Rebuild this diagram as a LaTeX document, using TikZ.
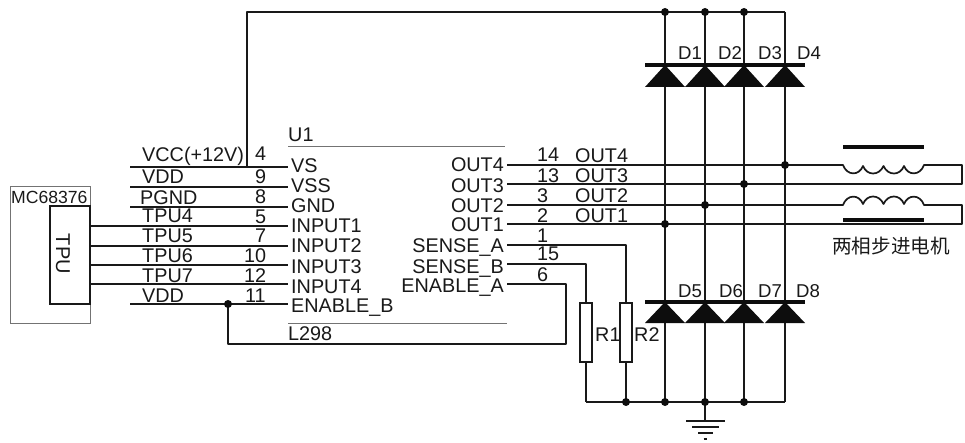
\documentclass[tikz,border=0pt]{standalone}
\usepackage{fontspec}
\setmainfont{Liberation Sans}
\newfontfamily\cjkfont{Noto Sans CJK SC}
\tikzset{
  wire/.style={line width=1.7pt,black!90,line join=round},
  thinbox/.style={line width=0.9pt,black!55},
  lab/.style={inner sep=0pt,anchor=base west,text=black!90,font=\fontsize{19.8}{22}\selectfont},
  labr/.style={lab,anchor=base east},
  dlab/.style={lab,font=\fontsize{18.6}{22}\selectfont},
  jdot/.style={circle,fill=black!95,inner sep=0pt,minimum size=8pt},
  diodetri/.style={fill=black!95,draw=none},
  barline/.style={line width=3.4pt,black!95},
  resbox/.style={draw=black!90,line width=1.7pt,fill=white,minimum width=12pt,minimum height=59pt,inner sep=0pt}
}
\begin{document}
\begin{tikzpicture}[x=1pt,y=-1pt]
\useasboundingbox (0,0) rectangle (965,443);
\fill[white] (0,0) rectangle (965,443);
% MC68376 outline and TPU box
\node[draw,thinbox,minimum width=80pt,minimum height=137pt,inner sep=0pt] (mc) at (50,254.5) {};
\node[draw=black!90,line width=1.4pt,minimum width=40pt,minimum height=98pt,inner sep=0pt] (tpu) at (70,255) {};
\node[lab,font=\fontsize{17.6}{20}\selectfont] (mclab) at (11,204) {MC68376};
\node[inner sep=0pt,rotate=-90,text=black!90,font=\fontsize{20}{22}\selectfont] (tpulab) at (63,254) {TPU};
% U1 outline lines
\coordinate (utl) at (288,146); \coordinate (utr) at (505,146);
\coordinate (ubl) at (288,323); \coordinate (ubr) at (507,323);
\draw[thinbox] (utl) -- (utr);
\draw[thinbox] (ubl) -- (ubr);
% left wires
\foreach \nm/\yy/\xs in {a/167/130,b/187/130,c/207/130,d/226/90,e/246/90,f/265/90,g/284/90,h/304/130}{
  \coordinate (l\nm) at (\xs,\yy);
  \coordinate (p\nm) at (288,\yy);
  \draw[wire] (l\nm) -- (p\nm);
}
% supply bus
\coordinate (vcct) at (247,12);
\coordinate (vccb) at (247,167);
\coordinate (d1t) at (665,12); \coordinate (d2t) at (705,12); \coordinate (d3t) at (744,12); \coordinate (d4t) at (785,12);
\draw[wire] (vccb) -- (vcct) -- (d4t);
% bottom bus
\coordinate (d1b) at (665,402); \coordinate (d2b) at (705,402); \coordinate (d3b) at (744,402); \coordinate (d4b) at (785,402);
\coordinate (r1b) at (586,402); \coordinate (r2b) at (626,402);
\draw[wire] (r1b) -- (d4b);
% verticals
\foreach \i in {1,2,3,4}{ \draw[wire] (d\i t) -- (d\i b); }
% output and coils
\coordinate (o4) at (507,165); \coordinate (o3) at (507,184); \coordinate (o2) at (507,205); \coordinate (o1) at (507,224);
\coordinate (c1l) at (843,165); \coordinate (c1r) at (924,165);
\coordinate (c2l) at (843,205); \coordinate (c2r) at (924,205);
\coordinate (ra) at (962,165); \coordinate (rb) at (962,184); \coordinate (rc) at (962,205); \coordinate (rd) at (962,224);
\draw[wire] (o4) -- (c1l)
  .. controls (847,176) and (859,176) .. (863,166)
  .. controls (867,176) and (879,176) .. (883.5,166)
  .. controls (888,176) and (900,176) .. (904,166)
  .. controls (908,176) and (920,176) .. (924,165)
  -- (ra) -- (rb) -- (o3);
\draw[wire] (o2) -- (c2l)
  .. controls (847,194) and (859,194) .. (863,204)
  .. controls (867,194) and (879,194) .. (883.5,204)
  .. controls (888,194) and (900,194) .. (904,204)
  .. controls (908,194) and (920,194) .. (924,205)
  -- (rc) -- (rd) -- (o1);
\coordinate (core1a) at (843,147); \coordinate (core1b) at (924,147);
\coordinate (core2a) at (843,220); \coordinate (core2b) at (924,220);
\draw[barline] (core1a) -- (core1b);
\draw[barline] (core2a) -- (core2b);
% diodes
\coordinate (bar1a) at (645,65); \coordinate (bar1b) at (805,65);
\coordinate (bar2a) at (645,302); \coordinate (bar2b) at (805,302);
\foreach \xx in {665,705,744,785}{
  \fill[diodetri] (\xx,65) -- (\xx-20,87) -- (\xx+20,87) -- cycle;
  \fill[diodetri] (\xx,302) -- (\xx-20,323) -- (\xx+20,323) -- cycle;
}
\draw[barline] (bar1a) -- (bar1b);
\draw[barline] (bar2a) -- (bar2b);
% sense wires and resistors
\node[resbox] (r1) at (586,332.5) {};
\node[resbox] (r2) at (626,332.5) {};
\coordinate (sa) at (507,245); \coordinate (sb) at (507,264); \coordinate (ea) at (507,284);
\draw[wire] (sa) -| (r2.north);
\draw[wire] (sb) -| (r1.north);
\draw[wire] (r1.south) -- (r1b);
\draw[wire] (r2.south) -- (r2b);
\coordinate (enj) at (228,304);
\coordinate (enb) at (228,344);
\coordinate (enc) at (566,344);
\draw[wire] (ea) -| (enc) -- (enb) -- (enj);
% ground
\coordinate (g0) at (705,421);
\coordinate (g1a) at (686,421); \coordinate (g1b) at (725,421);
\coordinate (g2a) at (692,427); \coordinate (g2b) at (719,427);
\coordinate (g3a) at (698,433); \coordinate (g3b) at (713,433);
\coordinate (g4a) at (703.5,439); \coordinate (g4b) at (706.5,439);
\draw[wire] (d2b) -- (g0);
\draw[wire] (g1a) -- (g1b);
\draw[wire] (g2a) -- (g2b);
\draw[wire] (g3a) -- (g3b);
\draw[wire] (g4a) -- (g4b);
% junction dots
\foreach \nm/\xx/\yy in {j1/665/12,j2/705/12,j3/744/12,j4/785/165,j5/744/184,j6/705/205,j7/665/224,j8/626/402,j9/665/402,j10/705/402,j11/744/402,j12/228/304}{
  \node[jdot] (\nm) at (\xx,\yy) {};
}
% labels
\foreach \nm/\xx/\yy/\tx in {t1/142/162/{VCC(+12V)},t2/142/184/{VDD},t3/140/205/{PGND},t4/142/223/{TPU4},t5/142/243/{TPU5},t6/142/263/{TPU6},t7/142/283/{TPU7},t8/142/302/{VDD},
 n1/255/161/{4},n2/255/184/{9},n3/255/204/{8},n4/255/224/{5},n5/255/243/{7},n6/244/263/{10},n7/244/283/{12},n8/245/302/{11},
 v1/291/173/{VS},v2/291/193/{VSS},v3/291/213/{GND},v4/291/233/{INPUT1},v5/291/253/{INPUT2},v6/291/273/{INPUT3},v7/291/293/{INPUT4},v8/291/312/{ENABLE\_B},
 u1/288/142/{U1},u2/288/340/{L298},
 m1/537/162/{14},m2/537/183/{13},m3/537/203/{3},m4/537/223/{2},m5/537/243/{1},m6/537/261/{15},m7/537/282/{6},
 w1/575/163/{OUT4},w2/575/183/{OUT3},w3/575/203/{OUT2},w4/575/223/{OUT1},
 s1/595/341/{R1},s2/634/341/{R2}}{
  \node[lab] (\nm) at (\xx,\yy) {\tx};
}
\foreach \nm/\xx/\yy/\tx in {q1/678/60/{D1},q2/718/60/{D2},q3/758/60/{D3},q4/797/60/{D4},q5/678/298/{D5},q6/719/298/{D6},q7/758/298/{D7},q8/796/298/{D8}}{
  \node[dlab] (\nm) at (\xx,\yy) {\tx};
}
\foreach \nm/\yy/\tx in {x1/172/{OUT4},x2/193/{OUT3},x3/213/{OUT2},x4/232/{OUT1},x5/253/{SENSE\_A},x6/273/{SENSE\_B},x7/292/{ENABLE\_A}}{
  \node[labr] (\nm) at (504,\yy) {\tx};
}
\node[inner sep=0pt,text=black!90,font=\cjkfont\fontsize{19.6}{22}\selectfont] (motor) at (891,246) {两相步进电机};
\end{tikzpicture}
\end{document}
